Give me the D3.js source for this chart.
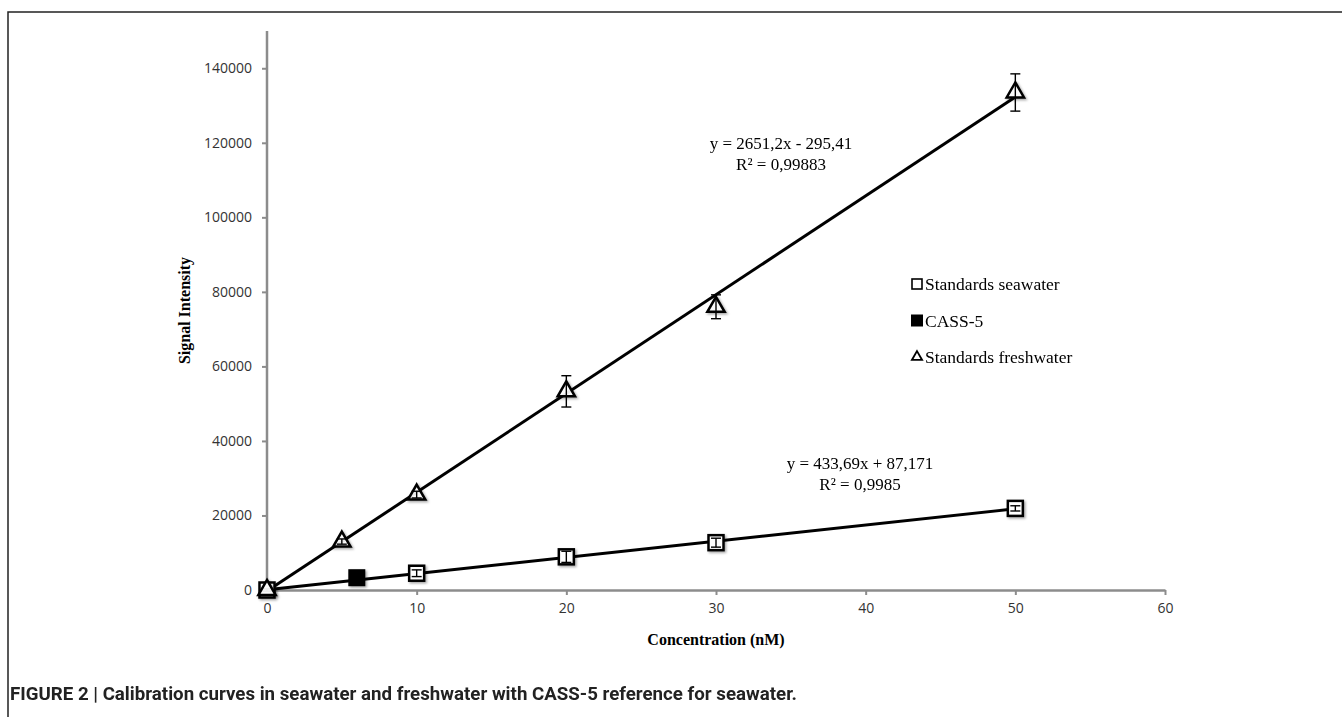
<!DOCTYPE html>
<html>
<head>
<meta charset="utf-8">
<script src="https://cdn.jsdelivr.net/npm/d3@7"></script>
<style>
  body { margin: 0; background: #fff; }
  svg { display: block; }
</style>
</head>
<body>
<script>
// Data
const seaConc = [0, 10, 20, 30, 50];
const seaSignal = [0, 4500, 8900, 12700, 21900];
const seaErr = [300, 900, 1500, 1200, 700];

const cassConc = [6];
const cassSignal = [3300];

const freshConc = [0, 5, 10, 20, 30, 50];
const freshSignal = [0, 13000, 25600, 53300, 76000, 133500];
const freshErr = [0, 700, 900, 4200, 3200, 5000];

// trendline coefficients [slope, intercept]
const seaFit = [433.69, 87.171];
const freshFit = [2651.2, -295.41];

const xTicks = [0, 10, 20, 30, 40, 50, 60];
const yTicks = [0, 20000, 40000, 60000, 80000, 100000, 120000, 140000];

const legendLabels = ["Standards seawater", "CASS-5", "Standards freshwater"];

const W = 1342, H = 717;
const svg = d3.select("body").append("svg")
    .attr("width", W)
    .attr("height", H);

// Figure frame
svg.append("path")
    .attr("d", `M8,${H} L8,12 L${W},12`)
    .attr("fill", "none")
    .attr("stroke", "#222")
    .attr("stroke-width", 1.5);

// Scales
const x = d3.scaleLinear().domain([0, 60]).range([267, 1165]);
const y = d3.scaleLinear().domain([0, 150000]).range([590, 31]);

const axisColor = "#8c8c8c";
const tickFont = "'Open Sans', 'DejaVu Sans', sans-serif";
const serif = "'Liberation Serif', 'DejaVu Serif', serif";

// Axes
const gx = svg.append("g")
    .attr("transform", `translate(0, ${y(0)})`)
    .call(d3.axisBottom(x).tickValues(xTicks).tickSize(5).tickSizeOuter(0).tickPadding(8));
const gy = svg.append("g")
    .attr("transform", `translate(${x(0)}, 0)`)
    .call(d3.axisLeft(y).tickValues(yTicks).tickFormat(d3.format("d"))
        .tickSize(5).tickSizeOuter(0).tickPadding(10));

[gx, gy].forEach((g) => {
    g.select(".domain").attr("stroke", axisColor).attr("stroke-width", 2.5);
    g.selectAll(".tick line").attr("stroke", axisColor).attr("stroke-width", 2);
    g.selectAll(".tick text")
        .attr("fill", "#333")
        .style("font-family", tickFont)
        .style("font-size", "14px");
});
gy.select(".domain").attr("d", `M0,${y(150000)}V${y(0)}`);

// Axis titles
svg.append("text")
    .attr("transform", `translate(190, ${y(75000)}) rotate(-90)`)
    .attr("text-anchor", "middle")
    .style("font-family", serif)
    .style("font-weight", "bold")
    .style("font-size", "16px")
    .text("Signal Intensity");

svg.append("text")
    .attr("x", x(30))
    .attr("y", 645)
    .attr("text-anchor", "middle")
    .style("font-family", serif)
    .style("font-weight", "bold")
    .style("font-size", "16px")
    .text("Concentration (nM)");

// Trendlines
const line = d3.line().x((d) => x(d[0])).y((d) => y(d[1]));
[seaFit, freshFit].forEach((f) => {
    svg.append("path")
        .datum([[0, f[1]], [50, f[0] * 50 + f[1]]])
        .attr("d", line)
        .attr("fill", "none")
        .attr("stroke", "#000")
        .attr("stroke-width", 3);
});

// Error bars
function errorBars(cx, cy, err) {
    const g = svg.append("g").attr("stroke", "#000").attr("stroke-width", 1.4);
    cx.forEach((c, i) => {
        if (!err[i]) return;
        const px = x(c), y1 = y(cy[i] + err[i]), y2 = y(cy[i] - err[i]);
        g.append("line").attr("x1", px).attr("x2", px).attr("y1", y1).attr("y2", y2);
        g.append("line").attr("x1", px - 5).attr("x2", px + 5).attr("y1", y1).attr("y2", y1);
        g.append("line").attr("x1", px - 5).attr("x2", px + 5).attr("y1", y2).attr("y2", y2);
    });
}

// soft drop shadow like the original markers
const defs = svg.append("defs");
const shadow = defs.append("filter").attr("id", "shadow")
    .attr("x", "-30%").attr("y", "-30%").attr("width", "160%").attr("height", "160%");
shadow.append("feDropShadow")
    .attr("dx", 1.5).attr("dy", 1.5).attr("stdDeviation", 1)
    .attr("flood-color", "#000").attr("flood-opacity", 0.35);

// Markers
const sqSize = 15;
const tri = d3.symbol().type(d3.symbolTriangle).size(130);

// seawater squares
svg.append("g").attr("filter", "url(#shadow)").selectAll("rect")
    .data(seaConc.map((c, i) => [c, seaSignal[i]]))
    .join("rect")
    .attr("x", (d) => x(d[0]) - sqSize / 2)
    .attr("y", (d) => y(d[1]) - sqSize / 2)
    .attr("width", sqSize)
    .attr("height", sqSize)
    .attr("fill", "#fff")
    .attr("stroke", "#000")
    .attr("stroke-width", 2.5);
errorBars(seaConc, seaSignal, seaErr);

// CASS-5
svg.append("g").attr("filter", "url(#shadow)").selectAll("rect")
    .data(cassConc.map((c, i) => [c, cassSignal[i]]))
    .join("rect")
    .attr("x", (d) => x(d[0]) - 8.5)
    .attr("y", (d) => y(d[1]) - 8.5)
    .attr("width", 17)
    .attr("height", 17)
    .attr("fill", "#000");

// freshwater triangles
svg.append("g").attr("filter", "url(#shadow)").selectAll("path")
    .data(freshConc.map((c, i) => [c, freshSignal[i]]))
    .join("path")
    .attr("d", tri)
    .attr("transform", (d) => `translate(${x(d[0])}, ${y(d[1])})`)
    .attr("fill", "#fff")
    .attr("fill-opacity", 0.9)
    .attr("stroke", "#000")
    .attr("stroke-width", 2.5);
errorBars(freshConc, freshSignal, freshErr);

// Equations
function eq(cx, cy, lines) {
    lines.forEach((t, i) => {
        svg.append("text")
            .attr("x", cx)
            .attr("y", cy + i * 21)
            .attr("text-anchor", "middle")
            .style("font-family", serif)
            .style("font-size", "17px")
            .text(t);
    });
}
eq(781, 149, ["y = 2651,2x - 295,41", "R² = 0,99883"]);
eq(860, 469, ["y = 433,69x + 87,171", "R² = 0,9985"]);

// Legend
const legY = [285, 321.5, 358];
const lg = svg.append("g");
lg.append("rect").attr("x", 912).attr("y", legY[0] - 6).attr("width", 10).attr("height", 10)
    .attr("fill", "#fff").attr("stroke", "#000").attr("stroke-width", 1.6);
lg.append("rect").attr("x", 911).attr("y", legY[1] - 7).attr("width", 12).attr("height", 12)
    .attr("fill", "#000");
lg.append("path").attr("d", d3.symbol().type(d3.symbolTriangle).size(45))
    .attr("transform", `translate(917, ${legY[2] - 1})`)
    .attr("fill", "#fff").attr("stroke", "#000").attr("stroke-width", 1.8);
legendLabels.forEach((t, i) => {
    lg.append("text")
        .attr("x", 925)
        .attr("y", legY[i] + 5)
        .style("font-family", serif)
        .style("font-size", "17.5px")
        .text(t);
});

// Caption
svg.append("text")
    .attr("x", 10)
    .attr("y", 700)
    .attr("textLength", 787)
    .attr("lengthAdjust", "spacingAndGlyphs")
    .style("font-family", "'Roboto', 'Liberation Sans', sans-serif")
    .style("font-weight", "bold")
    .style("font-size", "19px")
    .attr("fill", "#222")
    .text("FIGURE 2 | Calibration curves in seawater and freshwater with CASS-5 reference for seawater.");
</script>
</body>
</html>
